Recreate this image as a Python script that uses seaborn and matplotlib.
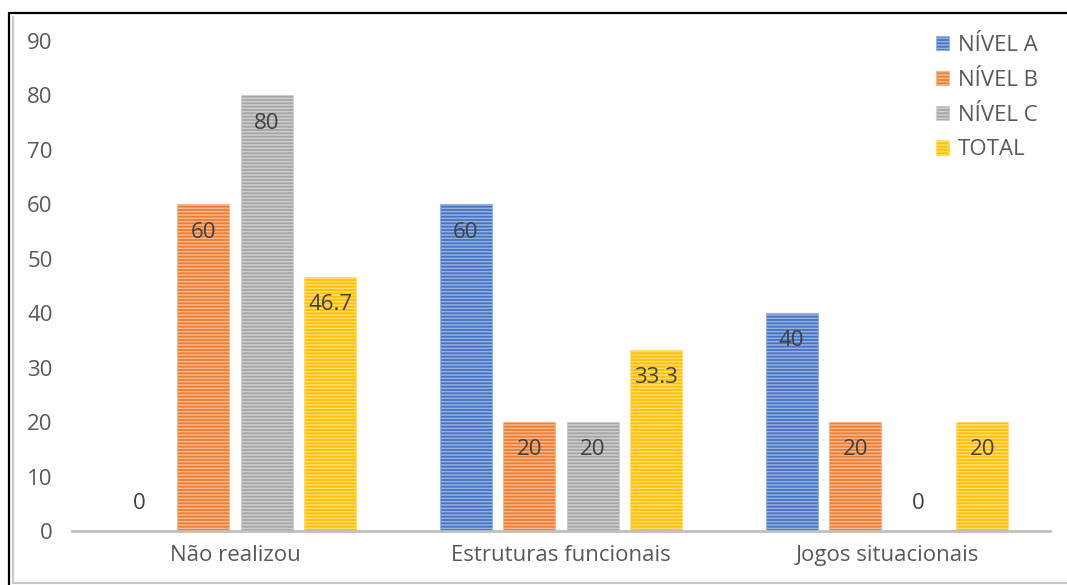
import matplotlib
matplotlib.use("Agg")
import matplotlib.pyplot as plt
import matplotlib.colors as mcolors
from matplotlib.lines import Line2D
import seaborn as sns
import pandas as pd

categories = ["Não realizou", "Estruturas funcionais", "Jogos situacionais"]
series_names = ["NÍVEL A", "NÍVEL B", "NÍVEL C", "TOTAL"]
nivel_a = [0, 60, 40]
nivel_b = [60, 20, 20]
nivel_c = [80, 20, 0]
total = [46.7, 33.3, 20]
y_ticks = [0, 10, 20, 30, 40, 50, 60, 70, 80, 90]

palette = ["#4472C4", "#ED7D31", "#A5A5A5", "#FFC000"]
text_color = "#595959"
fs = 16

rows = []
for name, vals in zip(series_names, [nivel_a, nivel_b, nivel_c, total]):
    for cat, v in zip(categories, vals):
        rows.append({"categoria": cat, "nivel": name, "valor": v})
df = pd.DataFrame(rows)

sns.set_theme(style="white")
plt.rcParams["font.family"] = ["Open Sans", "DejaVu Sans"]
plt.rcParams["hatch.linewidth"] = 1.1

fig = plt.figure(figsize=(10.67, 5.85), dpi=100)
ax = fig.add_axes([0.0675, 0.0923, 0.9165, 0.8376])

sns.barplot(data=df, x="categoria", y="valor", hue="nivel", order=categories,
            hue_order=series_names, palette=palette, width=0.78, gap=0.18,
            saturation=1, ax=ax, legend=False)


def tint(c, f=0.45):
    r, g, b = mcolors.to_rgb(c)
    return (r + (1 - r) * f, g + (1 - g) * f, b + (1 - b) * f)


for cont, col in zip(ax.containers, palette):
    for bar in cont.patches:
        bar.set_facecolor(col)
        bar.set_edgecolor(tint(col))
        bar.set_linewidth(0.8)
        bar.set_hatch("-----")
    for bar, val in zip(cont.patches, cont.datavalues):
        cx = bar.get_x() + bar.get_width() / 2
        h = bar.get_height()
        ty = h - 5.1 if h > 0 else 5.1
        ax.text(cx, ty, f"{val:g}", ha="center", va="center", fontsize=fs,
                color="#404040")

ax.set_xlim(-0.5, 2.5)
ax.set_ylim(0, 90)
ax.set_yticks(y_ticks)
ax.set_xlabel("")
ax.set_ylabel("")
ax.tick_params(axis="y", length=0, pad=14, labelsize=fs, labelcolor=text_color)
ax.tick_params(axis="x", length=0, pad=10, labelsize=fs, labelcolor=text_color)
for s in ["top", "right", "left"]:
    ax.spines[s].set_visible(False)
ax.spines["bottom"].set_color("#BFBFBF")
ax.spines["bottom"].set_linewidth(2)
ax.grid(False)

leg = ax.legend(ax.containers, series_names, loc="upper right",
                bbox_to_anchor=(1.008, 1.053), frameon=False, fontsize=fs,
                handlelength=0.6, handleheight=0.6, handletextpad=0.4,
                labelspacing=0.62, labelcolor=text_color)

# chart frame: black outer edge with a soft grey inner edge
fig.add_artist(Line2D([8.5 / 1067, 8.5 / 1067], [0, 1 - 12.5 / 585],
                      transform=fig.transFigure, color="black", lw=1.6))
fig.add_artist(Line2D([8.5 / 1067, 1], [1 - 12.5 / 585, 1 - 12.5 / 585],
                      transform=fig.transFigure, color="black", lw=1.6))
fig.add_artist(Line2D([12.5 / 1067, 12.5 / 1067], [2.5 / 585, 1 - 17 / 585],
                      transform=fig.transFigure, color="#C8C8C8", lw=1.5))
fig.add_artist(Line2D([12.5 / 1067, 1], [2.5 / 585, 2.5 / 585],
                      transform=fig.transFigure, color="#C8C8C8", lw=1.5))

fig.savefig("out.png", dpi=100, facecolor="white")
